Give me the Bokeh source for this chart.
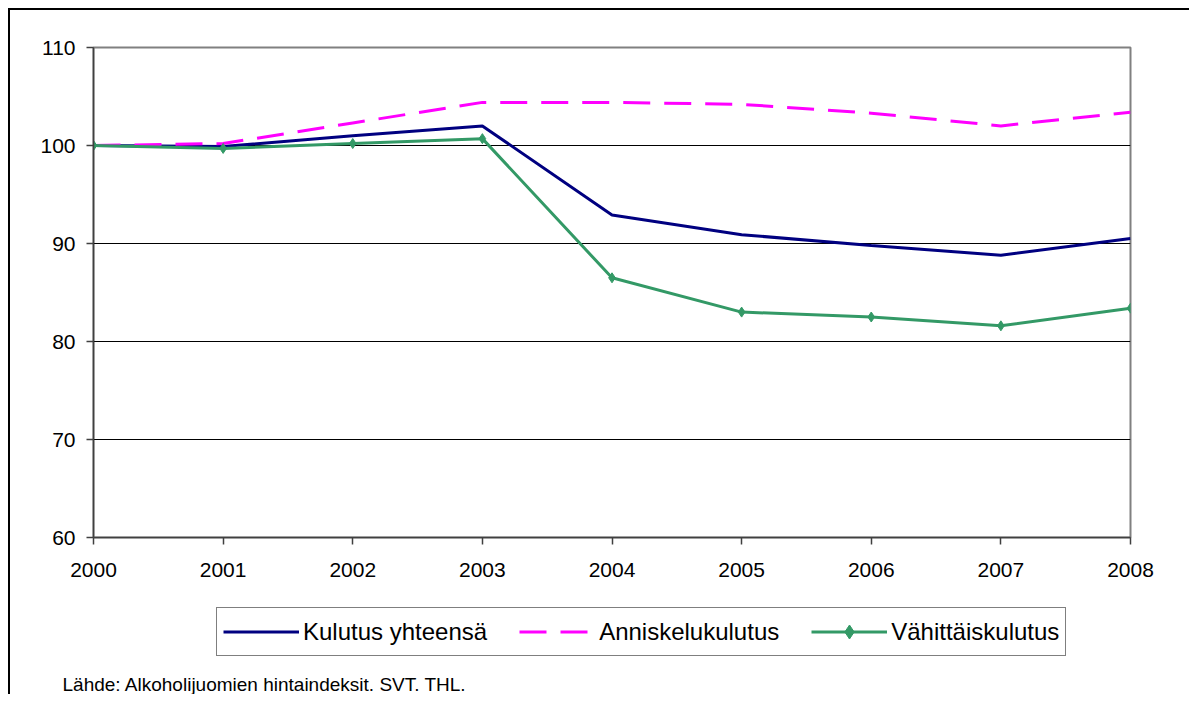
from bokeh.plotting import figure
from bokeh.layouts import column
from bokeh.models import Legend, LegendItem, FixedTicker, Title, Range1d
from bokeh.embed import file_html
from bokeh.resources import INLINE

years = [2000, 2001, 2002, 2003, 2004, 2005, 2006, 2007, 2008]
kulutus = [100.0, 99.9, 101.0, 102.0, 92.9, 90.9, 89.8, 88.8, 90.5]
anniskelu = [100.0, 100.2, 102.3, 104.4, 104.4, 104.2, 103.3, 102.0, 103.4]
vahittais = [100.0, 99.7, 100.2, 100.7, 86.5, 83.0, 82.5, 81.6, 83.4]
y_ticks = [60, 70, 80, 90, 100, 110]
grid_ticks = [70, 80, 90, 100]
series_names = ["Kulutus yhteensä", "Anniskelukulutus", "Vähittäiskulutus"]
source_text = "Lähde: Alkoholijuomien hintaindeksit. SVT. THL."

FONT = "Liberation Sans"
C1, C2, C3 = "#000080", "#FF00FF", "#339966"

# ---- main chart ----
p = figure(width=1179, height=580, output_backend="svg", toolbar_location=None,
           x_range=Range1d(2000, 2008), y_range=Range1d(60, 110),
           min_border_left=83, min_border_top=37, min_border_right=59, min_border_bottom=53)

p.outline_line_color = "#808080"
p.outline_line_width = 2
p.background_fill_color = "white"
p.border_fill_color = "white"

p.xgrid.visible = False
p.ygrid.ticker = FixedTicker(ticks=grid_ticks)
p.ygrid.grid_line_color = "black"
p.ygrid.grid_line_width = 1

for ax in (p.xaxis[0], p.yaxis[0]):
    ax.axis_line_color = "#404040"
    ax.axis_line_width = 1.5
    ax.major_tick_line_color = "#404040"
    ax.major_tick_line_width = 1.5
    ax.major_tick_in = 0
    ax.major_tick_out = 7
    ax.minor_tick_line_color = None
    ax.major_label_text_font = FONT
    ax.major_label_text_font_size = "21px"
    ax.major_label_text_color = "black"

p.xaxis.ticker = FixedTicker(ticks=years)
p.yaxis.ticker = FixedTicker(ticks=y_ticks)
p.xaxis.major_label_standoff = 18
p.yaxis.major_label_standoff = 11

p.line(years, kulutus, line_color=C1, line_width=3)
p.line(years, anniskelu, line_color=C2, line_width=3, line_dash="27 14")
p.line(years, vahittais, line_color=C3, line_width=3)
p.scatter(years, vahittais, marker="diamond", size=10, fill_color=C3, line_color=C3)

# ---- legend + source strip (same series, drawn outside its view range) ----
q = figure(width=1179, height=104, output_backend="svg", toolbar_location=None,
           x_range=Range1d(0, 1), y_range=Range1d(0, 1),
           x_axis_type=None, y_axis_type=None,
           min_border_left=83, min_border_right=59, min_border_top=0, min_border_bottom=0)
q.outline_line_color = None
q.grid.visible = False
q.background_fill_color = "white"
q.border_fill_color = "white"

l1 = q.line(years, kulutus, line_color=C1, line_width=3)
l2 = q.line(years, anniskelu, line_color=C2, line_width=3, line_dash="27 14")
l3 = q.line(years, vahittais, line_color=C3, line_width=3)
l3m = q.scatter(years, vahittais, marker="diamond", size=9, fill_color=C3, line_color=C3)

legend = Legend(items=[LegendItem(label=series_names[0], renderers=[l1]),
                       LegendItem(label=series_names[1], renderers=[l2]),
                       LegendItem(label=series_names[2], renderers=[l3, l3m])],
                orientation="horizontal", location=(123, 15))
legend.label_text_font = FONT
legend.label_text_font_size = "24px"
legend.label_text_color = "black"
legend.glyph_width = 76
legend.glyph_height = 35
legend.label_standoff = 4
legend.spacing = 32
legend.padding = 6
legend.margin = 0
legend.border_line_color = "black"
legend.border_line_width = 1
legend.background_fill_alpha = 1
q.add_layout(legend, "center")

src = Title(text=source_text, align="left", offset=-31, standoff=0,
            text_font=FONT, text_font_size="19px", text_font_style="normal",
            text_color="black")
q.add_layout(src, "below")

layout = column(p, q, spacing=0)
layout.styles = {"border-left": "2px solid black", "border-top": "2px solid black",
                 "margin-left": "8px", "margin-top": "8px"}

open("out.html", "w").write(file_html(layout, INLINE))
